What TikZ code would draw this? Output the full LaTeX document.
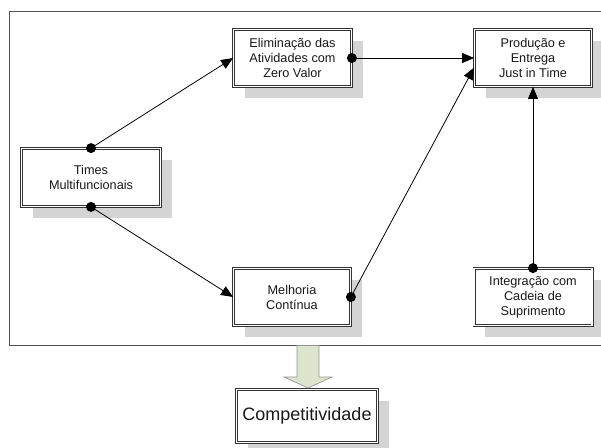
\documentclass[tikz,border=0pt]{standalone}
\usepackage{fontspec}
\setmainfont{Liberation Sans}
\usetikzlibrary{arrows.meta,shadows,calc}
\definecolor{shadowc}{RGB}{212,212,212}
\definecolor{framec}{RGB}{80,80,80}
\definecolor{arrowfill}{RGB}{221,228,206}
\definecolor{arrowdraw}{RGB}{150,150,150}
\tikzset{
  box/.style={draw=black!80, double=white, double distance=1.4pt, line width=0.8pt,
    fill=white, align=center, inner sep=2pt,
    font=\fontsize{12.7}{15}\selectfont, text=black!90,
    drop shadow={shadow xshift=11pt, shadow yshift=-11pt, fill=shadowc, opacity=1}},
  conn/.style={line width=0.8pt, black, -{Triangle[length=12pt,width=10pt]}},
  dot/.style={fill=black}
}
\begin{document}
\begin{tikzpicture}[x=1pt,y=-1pt]
\clip (0,0) rectangle (601,447);
\fill[white] (0,0) rectangle (601,447);
% frame
\draw[framec, line width=0.9pt] (605,11) -- (9,11) -- (9,345) -- (605,345);
% nodes
\node[box, minimum width=118pt, minimum height=57pt] (elim) at (292.5,58) {Eliminação das\\Atividades com\\Zero Valor};
\node[box, minimum width=117pt, minimum height=57pt] (prod) at (533,58) {Produção e\\Entrega\\Just in Time};
\node[box, minimum width=139pt, minimum height=58pt] (times) at (91,177.5) {Times\\Multifuncionais};
\node[box, minimum width=117pt, minimum height=57pt] (melh) at (292,297) {Melhoria\\Contínua};
\node[box, minimum width=118pt, minimum height=57pt] (integ) at (533,297) {Integração com\\Cadeia de\\Suprimento};
\node[box, minimum width=141pt, minimum height=53pt, font=\fontsize{18}{21}\selectfont] (comp) at (307,416) {Competitividade};
% connectors
\draw[conn] (times.north) -- (elim.west);
\draw[conn] (times.south) -- (melh.west);
\draw[conn] (elim.east) -- (prod.west);
\coordinate (prodin) at ($(prod.west)!0.33!(prod.south west)$);
\draw[conn] (melh.east) -- (prodin);
\draw[conn] (integ.north) -- (prod.south);
% dots
\foreach \p in {times.north, times.south, elim.east, melh.east, integ.north}
  \fill[dot] (\p) circle (5pt);
% block arrow
\draw[arrowdraw, fill=arrowfill, line width=0.7pt]
  (297,345.5) -- (319,345.5) -- (319,377) -- (332,377) -- (308,388) -- (284,377) -- (297,377) -- cycle;
\end{tikzpicture}
\end{document}
